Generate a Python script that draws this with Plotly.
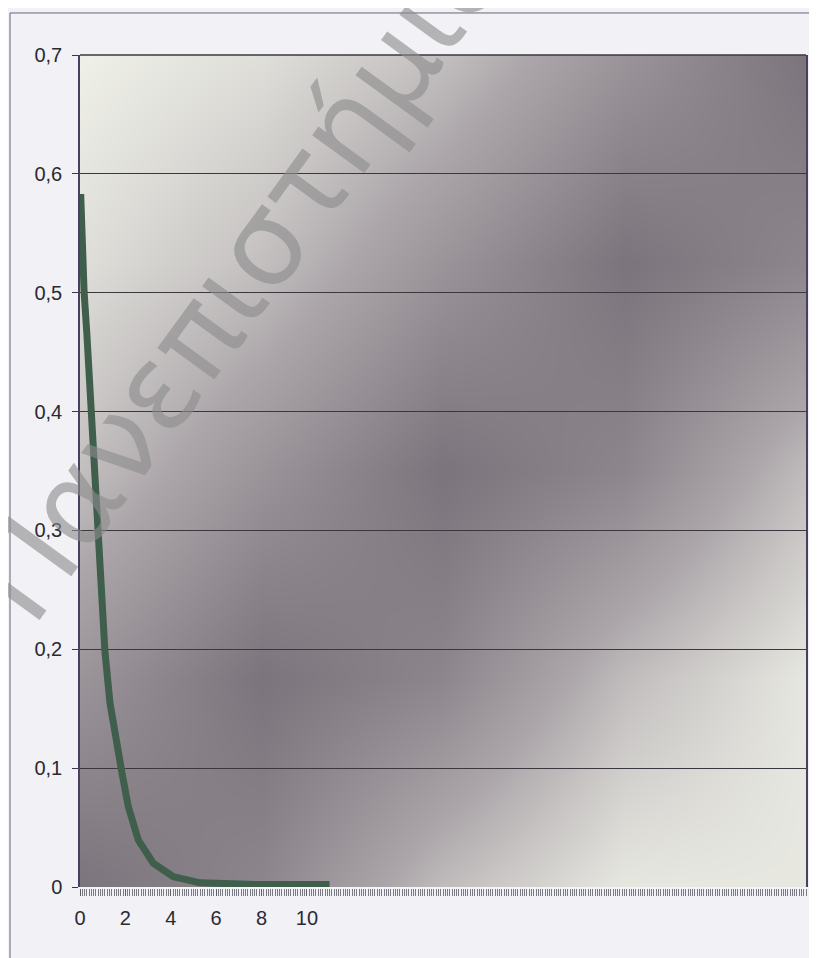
import plotly.graph_objects as go

# ---- data ----
x_vals = [0.03, 0.10, 0.18, 0.30, 0.41, 0.52, 0.62, 0.74, 0.88, 1.10, 1.32, 1.55,
          1.73, 1.84, 2.13, 2.57, 3.23, 4.11, 5.30, 6.50, 8.00, 9.50, 11.00]
y_vals = [0.583, 0.540, 0.501, 0.466, 0.429, 0.398, 0.356, 0.298, 0.267, 0.198, 0.155, 0.125,
          0.104, 0.097, 0.0675, 0.0395, 0.020, 0.0087, 0.0035, 0.0025, 0.002, 0.002, 0.002]

x_tick_vals = [0, 2, 4, 6, 8, 10]
x_tick_text = ["0", "2", "4", "6", "8", "10"]
y_tick_vals = [0, 0.1, 0.2, 0.3, 0.4, 0.5, 0.6, 0.7]

watermark_text = "Πανεπιστήμιο"

# ---- decorative diagonal background shading (styling only) ----
bg_grid = [0, 0.25, 0.5, 0.75, 1.0]
bg_profile = [1.0, 0.9, 0.72, 0.42, 0.15, 0.3, 0.7, 0.95, 0.95]  # light -> dark -> light along the diagonal
bg_z = [[bg_profile[i + (4 - j)] for i in range(5)] for j in range(5)]

fig = go.Figure()

fig.add_trace(go.Heatmap(
    x=bg_grid, y=bg_grid, z=bg_z, zsmooth="best",
    colorscale=[[0, "#7c747c"], [0.5, "#aca6aa"], [1, "#eff0e8"]],
    showscale=False, hoverinfo="skip", xaxis="x", yaxis="y",
))

fig.add_trace(go.Scatter(
    x=x_vals, y=y_vals, mode="lines",
    line=dict(color="#3f5e4c", width=7),
    xaxis="x2", yaxis="y2", showlegend=False,
))

font_main = dict(family="Liberation Sans, Arial, sans-serif", size=20, color="#2a2a30")

# the page body has an 8px default margin, so the figure is shrunk by 8px
fig.update_layout(
    width=809, height=950,
    margin=dict(l=72, r=11, t=47, b=71, autoexpand=False),
    paper_bgcolor="#f1f1f6",
    plot_bgcolor="rgba(0,0,0,0)",
    separators=", ",
    showlegend=False,
    xaxis=dict(domain=[0, 1], range=[0, 1], visible=False, fixedrange=True),
    yaxis=dict(domain=[0, 1], range=[0, 1], visible=False, fixedrange=True),
    xaxis2=dict(
        domain=[0, 1], anchor="y2", range=[0, 32],
        tickmode="array", tickvals=x_tick_vals, ticktext=x_tick_text,
        ticks="outside", ticklen=7, tickcolor="#5e5e68", tickwidth=1,
        minor=dict(ticks="outside", dtick=0.1, tick0=0, ticklen=7,
                   tickcolor="#7a7a84", tickwidth=1),
        showgrid=False, zeroline=False,
        showline=True, linecolor="#f4f4f4", linewidth=2,
        tickfont=font_main, ticklabelstandoff=5,
        layer="below traces",
    ),
    yaxis2=dict(
        domain=[0, 1], anchor="x2", range=[0, 0.7],
        tickmode="array", tickvals=y_tick_vals,
        ticks="outside", ticklen=6, tickcolor="#3c3450",
        showgrid=True, gridcolor="#3a383e", gridwidth=1,
        zeroline=False,
        showline=True, linecolor="#4a3f5e", linewidth=1.5, mirror=True,
        tickfont=font_main, ticklabelstandoff=6,
    ),
    shapes=[
        dict(type="rect", xref="paper", yref="paper",
             x0=-0.0964, x1=1.08, y0=-0.12, y1=1.0505,
             line=dict(color="#6a6478", width=1), fillcolor="rgba(0,0,0,0)",
             layer="below"),
        dict(type="line", xref="paper", yref="paper",
             x0=0, x1=1, y0=1, y1=1,
             line=dict(color="#3a383e", width=1.5)),
    ],
    annotations=[
        dict(text=watermark_text, xref="paper", yref="paper",
             x=0.22, y=0.735, xanchor="center", yanchor="middle",
             showarrow=False, textangle=-54,
             font=dict(family="DejaVu Sans, sans-serif", size=118,
                       color="rgba(140,140,140,0.62)")),
    ],
)

fig.write_html("out.html")
